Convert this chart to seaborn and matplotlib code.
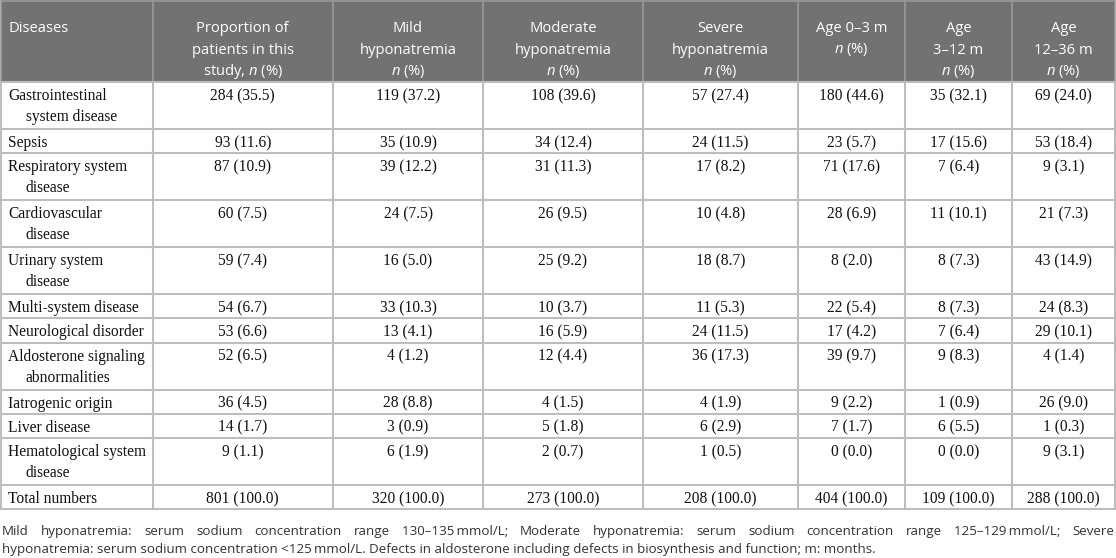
import matplotlib
matplotlib.use('Agg')
import matplotlib.pyplot as plt
import seaborn as sns

# table content
diseases = [["Gastrointestinal", "system disease"], ["Sepsis"],
            ["Respiratory system", "disease"], ["Cardiovascular", "disease"],
            ["Urinary system", "disease"], ["Multi-system disease"],
            ["Neurological disorder"], ["Aldosterone signaling", "abnormalities"],
            ["Iatrogenic origin"], ["Liver disease"],
            ["Hematological system", "disease"], ["Total numbers"]]

total_n = [284, 93, 87, 60, 59, 54, 53, 52, 36, 14, 9, 801]
total_pct = [35.5, 11.6, 10.9, 7.5, 7.4, 6.7, 6.6, 6.5, 4.5, 1.7, 1.1, 100.0]
mild_n = [119, 35, 39, 24, 16, 33, 13, 4, 28, 3, 6, 320]
mild_pct = [37.2, 10.9, 12.2, 7.5, 5.0, 10.3, 4.1, 1.2, 8.8, 0.9, 1.9, 100.0]
moderate_n = [108, 34, 31, 26, 25, 10, 16, 12, 4, 5, 2, 273]
moderate_pct = [39.6, 12.4, 11.3, 9.5, 9.2, 3.7, 5.9, 4.4, 1.5, 1.8, 0.7, 100.0]
severe_n = [57, 24, 17, 10, 18, 11, 24, 36, 4, 6, 1, 208]
severe_pct = [27.4, 11.5, 8.2, 4.8, 8.7, 5.3, 11.5, 17.3, 1.9, 2.9, 0.5, 100.0]
age_0_3_n = [180, 23, 71, 28, 8, 22, 17, 39, 9, 7, 0, 404]
age_0_3_pct = [44.6, 5.7, 17.6, 6.9, 2.0, 5.4, 4.2, 9.7, 2.2, 1.7, 0.0, 100.0]
age_3_12_n = [35, 17, 7, 11, 8, 8, 7, 9, 1, 6, 0, 109]
age_3_12_pct = [32.1, 15.6, 6.4, 10.1, 7.3, 7.3, 6.4, 8.3, 0.9, 5.5, 0.0, 100.0]
age_12_36_n = [69, 53, 9, 21, 43, 24, 29, 4, 26, 1, 9, 288]
age_12_36_pct = [24.0, 18.4, 3.1, 7.3, 14.9, 8.3, 10.1, 1.4, 9.0, 0.3, 3.1, 100.0]

headers = [["Diseases"],
           ["Proportion of", "patients in this", "study, $n$ (%)"],
           ["Mild", "hyponatremia", "$n$ (%)"],
           ["Moderate", "hyponatremia", "$n$ (%)"],
           ["Severe", "hyponatremia", "$n$ (%)"],
           ["Age 0–3 m", "$n$ (%)"],
           ["Age", "3–12 m", "$n$ (%)"],
           ["Age", "12–36 m", "$n$ (%)"]]

footnote_1 = ("Mild hyponatremia: serum sodium concentration range 130–135\u2009mmol/L; "
              "Moderate hyponatremia: serum sodium concentration range 125–129\u2009mmol/L; Severe")
footnote_2 = ("hyponatremia: serum sodium concentration <125\u2009mmol/L. Defects in aldosterone "
              "including defects in biosynthesis and function; m: months.")

columns = [(total_n, total_pct), (mild_n, mild_pct), (moderate_n, moderate_pct),
           (severe_n, severe_pct), (age_0_3_n, age_0_3_pct),
           (age_3_12_n, age_3_12_pct), (age_12_36_n, age_12_36_pct)]

sns.set_theme(style='white')
plt.rcParams['font.family'] = ['Liberation Serif', 'DejaVu Serif']
plt.rcParams['mathtext.fontset'] = 'custom'
plt.rcParams['mathtext.it'] = 'Open Sans:italic'
plt.rcParams['mathtext.rm'] = 'Open Sans'
sans = ['Open Sans', 'DejaVu Sans']

W, H = 1116, 558
fig = plt.figure(figsize=(W / 100, H / 100), dpi=100)
ax = fig.add_axes([0, 0, 1, 1])
ax.set_xlim(0, W)
ax.set_ylim(H, 0)
ax.axis('off')

col_edges = [1, 152.5, 333, 483, 643, 798, 905, 1012, 1115]
header_h = 82
line_h = 21
one_line_h = 24.2
two_line_h = 47

# row tops
row_tops = []
y = header_h
for name in diseases:
    row_tops.append(y)
    y += one_line_h if len(name) == 1 else two_line_h
table_bottom = y

grid_col = '#bdbdbd'
head_bg = '#727272'

# header
ax.axhspan(0, header_h, xmin=col_edges[0] / W, xmax=col_edges[-1] / W,
           color=head_bg, lw=0, zorder=0)
for i, lines in enumerate(headers):
    x0, x1 = col_edges[i], col_edges[i + 1]
    for k, txt in enumerate(lines):
        if i == 0:
            ax.text(x0 + 7, 32 + k * 21.5, txt, color='white', fontsize=10.6,
                    family=sans, ha='left', va='baseline')
        else:
            ax.text((x0 + x1) / 2, 32 + k * 21.5, txt, color='white', fontsize=10.6,
                    family=sans, ha='center', va='baseline')

# body
for r, name in enumerate(diseases):
    top = row_tops[r]
    for k, txt in enumerate(name):
        ax.text(col_edges[0] + 7 + (18 if k > 0 else 0), top + 18 + k * line_h, txt,
                fontsize=11.2, color='#111111', ha='left', va='baseline')
    for c, (ns, ps) in enumerate(columns):
        xc = (col_edges[c + 1] + col_edges[c + 2]) / 2
        ax.text(xc, top + 18, f"{ns[r]} ({ps[r]:.1f})", fontsize=11.2,
                color='#111111', ha='center', va='baseline')

# grid lines
for x in col_edges:
    ax.plot([x, x], [0, header_h], color='#9a9a9a', lw=1.2, zorder=1)
    ax.plot([x, x], [header_h, table_bottom], color=grid_col, lw=1.5, zorder=1)
for yy in row_tops[1:] + [table_bottom]:
    ax.plot([col_edges[0], col_edges[-1]], [yy, yy], color=grid_col, lw=1.5, zorder=1)
ax.plot([col_edges[0], col_edges[-1]], [header_h, header_h], color=grid_col, lw=1.5, zorder=1)
ax.plot([col_edges[0], col_edges[-1]], [0.5, 0.5], color='#9a9a9a', lw=1.2, zorder=1)

# footnote, first line justified
renderer = fig.canvas.get_renderer()
words = footnote_1.split(' ')
texts = [ax.text(0, 535, w, fontsize=9.6, family=sans, color='#333333',
                 ha='left', va='baseline') for w in words]
widths = [t.get_window_extent(renderer).width for t in texts]
gap = (W - 4 - sum(widths)) / (len(words) - 1)
x = 2
for t, w in zip(texts, widths):
    t.set_x(x)
    x += w + gap
ax.text(2, 553, footnote_2, fontsize=9.6, family=sans, color='#333333',
        ha='left', va='baseline')

fig.savefig('out.png', dpi=100)
